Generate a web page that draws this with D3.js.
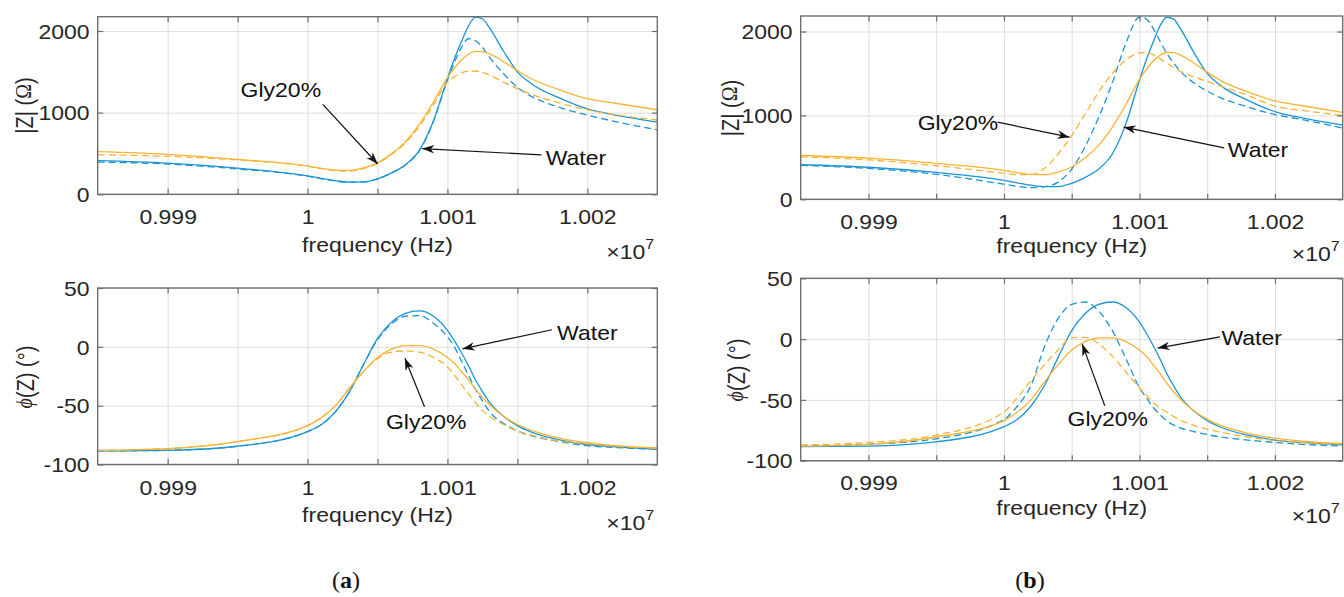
<!DOCTYPE html>
<html><head><meta charset="utf-8">
<script src="https://cdn.jsdelivr.net/npm/d3@7"></script>
<style>body{margin:0;background:#fff;} svg{display:block;}</style>
</head><body>
<svg id="c" width="1344" height="597"></svg>
<script>
// ---------------- DATA (frequency in units of 1e7 Hz) ----------------
const freq = [0.9985, 0.999, 0.9995, 1.0, 1.0001, 1.0002, 1.0003, 1.0004, 1.0005, 1.0006, 1.0007, 1.0008, 1.0009,
  1.001, 1.00105, 1.0011, 1.00115, 1.0012, 1.00125, 1.0013, 1.0014, 1.0015, 1.0016, 1.0018, 1.002, 1.0022, 1.0025];

// |Z| (Ohm)
const waterSolidZ = [412, 382, 320, 225, 195, 168, 150, 152, 190, 262, 362, 540, 900, 1420, 1660, 1870, 2060, 2170, 2150, 2040, 1755, 1500, 1355, 1180, 1045, 970, 885];
const glySolidZ   = [522, 490, 428, 346, 318, 296, 293, 325, 385, 495, 645, 860, 1130, 1430, 1545, 1645, 1715, 1750, 1748, 1722, 1625, 1515, 1415, 1280, 1172, 1115, 1035];
const waterDashZa = [395, 370, 310, 222, 190, 162, 145, 150, 188, 260, 360, 535, 890, 1400, 1615, 1800, 1905, 1880, 1800, 1680, 1480, 1310, 1200, 1065, 970, 890, 790];
const glyDashZa   = [485, 465, 420, 345, 315, 290, 285, 315, 378, 488, 630, 835, 1095, 1370, 1440, 1485, 1508, 1510, 1495, 1460, 1375, 1295, 1225, 1120, 1035, 975, 910];
const waterDashZb = [405, 368, 298, 180, 155, 140, 150, 205, 360, 630, 980, 1390, 1860, 2170, 2150, 2040, 1890, 1745, 1630, 1530, 1390, 1290, 1210, 1100, 1010, 950, 850];
const glyDashZb   = [505, 470, 400, 310, 292, 295, 370, 540, 760, 1020, 1280, 1500, 1660, 1745, 1750, 1725, 1680, 1625, 1575, 1525, 1460, 1405, 1350, 1240, 1110, 1060, 1000];

// phase (deg)
const waterSolidP = [-88.5, -88, -84.5, -72, -66, -55, -38, -15, 7, 21, 28.5, 30.5, 26, 14, 5, -5, -16, -28, -38, -47, -59, -67, -72.5, -79, -83, -85, -87];
const glySolidP   = [-88, -86.5, -80.5, -67, -60, -50, -35, -21, -9, -2, 1, 1, -2, -9, -14, -21, -28, -36, -43, -49, -59, -66, -71, -77.5, -81.5, -84, -86];
const waterDashPa = [-88.5, -88, -84.5, -72, -66, -55, -38, -15, 6, 19.5, 26, 26.5, 20, 8.5, 0, -12, -24, -36, -46, -55, -65, -71.5, -75.5, -80.5, -84, -85.5, -87];
const glyDashPa   = [-88, -86.5, -80.5, -67, -60, -50, -35, -21, -10, -4.5, -3.5, -4.5, -9, -17, -24, -32, -40, -47.5, -54, -59, -66, -71.5, -75, -80, -82.5, -84.5, -86];
const waterDashPb = [-88, -86.5, -82, -66, -55, -38, -6, 17, 28.5, 30.5, 23, 7, -16, -40, -48, -56, -62, -67, -70.5, -73, -76, -78.5, -80.5, -83, -85, -86.5, -88];
const glyDashPb   = [-87, -85, -79, -60, -48, -34, -21, -9, 1, 1.5, -4, -14, -27, -40, -46, -52, -56.5, -60, -63.5, -66.5, -71, -74, -76.5, -80.5, -83.5, -85, -86.5];

const xDomain = [0.9985, 1.0025];
const xTicks = [0.999, 0.9995, 1, 1.0005, 1.001, 1.0015, 1.002];
const xTickLabels = ["0.999", "", "1", "", "1.001", "", "1.002"];
const zTicks = [0, 1000, 2000];
const zTickLabels = ["0", "1000", "2000"];
const pTicks = [-100, -50, 0, 50];
const pTickLabels = ["-100", "-50", "0", "50"];
const seriesNames = ["Water", "Gly20%"];
const xLabel = "frequency (Hz)";
const panelTags = ["a", "b"];

// ---------------- STYLE ----------------
const BLUE = "#1b95d3", ORANGE = "#f8b334";
const TXT = "#262626", AXC = "#6e6e6e", GRID = "#dedede";
const FONT = "'Liberation Sans', Arial, Helvetica, sans-serif";
const SX = 1.15;

const svg = d3.select("#c");
const defs = svg.append("defs");
defs.append("marker").attr("id", "ah").attr("viewBox", "-13 -6 15 12")
  .attr("refX", 0).attr("refY", 0).attr("markerWidth", 15).attr("markerHeight", 12)
  .attr("markerUnits", "userSpaceOnUse").attr("orient", "auto")
  .append("path").attr("d", "M0,0 L-12,-4.2 L-8.5,0 L-12,4.2 Z").attr("fill", "#111");

function stext(g, x, y, anchor, size) {
  return g.append("g").attr("transform", `translate(${x},${y}) scale(${SX},1)`)
    .append("text").attr("text-anchor", anchor).attr("font-family", FONT)
    .attr("font-size", size).attr("fill", TXT);
}

const panels = [
  { x0: 97.7, x1: 657.3, y0: 16.7, y1: 194.3, yDomain: [0, 2175], yTicks: zTicks, yLabels: zTickLabels, kind: "Z",
    ylabX: 24, ylabY: 105.5, tickOff: 30, freqOff: 57.5, expOff: 65,
    series: [[waterSolidZ, BLUE, false], [waterDashZa, BLUE, true], [glySolidZ, ORANGE, false], [glyDashZa, ORANGE, true]],
    ann: [[1, 0.999809, 1196, 1.000109, 1102, 1.0005015, 371], [0, 1.001918, 359, 1.001671, 482, 1.00082, 560]] },
  { x0: 97.7, x1: 657.3, y0: 288, y1: 464.5, yDomain: [-100, 50], yTicks: pTicks, yLabels: pTickLabels, kind: "P",
    ylabX: 25, ylabY: 377, tickOff: 31, freqOff: 57, expOff: 65,
    series: [[waterSolidP, BLUE, false], [waterDashPa, BLUE, true], [glySolidP, ORANGE, false], [glyDashPa, ORANGE, true]],
    ann: [[0, 1.002, 6, 1.001748, 14.5, 1.001108, -1.7], [1, 1.000848, -70.2, 1.000836, -50.9, 1.000696, -9.7]] },
  { x0: 800.7, x1: 1342.7, y0: 16, y1: 199.3, yDomain: [0, 2185], yTicks: zTicks, yLabels: zTickLabels, kind: "Z",
    ylabX: 730, ylabY: 108, tickOff: 29.7, freqOff: 54, expOff: 61.5,
    series: [[waterSolidZ, BLUE, false], [waterDashZb, BLUE, true], [glySolidZ, ORANGE, false], [glyDashZb, ORANGE, true]],
    ann: [[1, 0.99966, 832, 0.999953, 919, 1.000484, 741], [0, 1.001875, 503, 1.001625, 614, 1.000884, 860]] },
  { x0: 800.7, x1: 1342.7, y0: 278.3, y1: 460.7, yDomain: [-100, 50], yTicks: pTicks, yLabels: pTickLabels, kind: "P",
    ylabX: 736, ylabY: 370, tickOff: 29.8, freqOff: 54.3, expOff: 62.3,
    series: [[waterSolidP, BLUE, false], [waterDashPb, BLUE, true], [glySolidP, ORANGE, false], [glyDashPb, ORANGE, true]],
    ann: [[0, 1.001828, -4.9, 1.001594, 1.9, 1.001134, -7.4], [1, 1.000766, -71.3, 1.000744, -54.8, 1.000578, -4.1]] }
];

panels.forEach((p, pi) => {
  const x = d3.scaleLinear().domain(xDomain).range([p.x0, p.x1]);
  const y = d3.scaleLinear().domain(p.yDomain).range([p.y1, p.y0]);
  const W = p.x1 - p.x0, H = p.y1 - p.y0;
  const g = svg.append("g");

  // grid
  g.append("g").attr("transform", `translate(0,${p.y1})`)
    .call(d3.axisBottom(x).tickValues(xTicks).tickSize(-H).tickFormat(""))
    .call(a => { a.select(".domain").remove(); a.selectAll("line").attr("stroke", GRID).attr("stroke-width", 1); });
  g.append("g").attr("transform", `translate(${p.x0},0)`)
    .call(d3.axisLeft(y).tickValues(p.yTicks).tickSize(-W).tickFormat(""))
    .call(a => { a.select(".domain").remove(); a.selectAll("line").attr("stroke", GRID).attr("stroke-width", 1); });

  // clip
  const cid = "clip" + pi;
  defs.append("clipPath").attr("id", cid).append("rect")
    .attr("x", p.x0).attr("y", p.y0).attr("width", W).attr("height", H);

  // lines
  const line = d3.line().x((d, i) => x(freq[i])).y(d => y(d)).curve(d3.curveMonotoneX);
  const lg = g.append("g").attr("clip-path", `url(#${cid})`);
  p.series.forEach(([vals, col, dash]) => {
    lg.append("path").attr("d", line(vals)).attr("fill", "none").attr("stroke", col)
      .attr("stroke-width", 1.3).attr("stroke-dasharray", dash ? "7,4" : null)
      .attr("stroke-linejoin", "round");
  });

  // box
  g.append("rect").attr("x", p.x0).attr("y", p.y0).attr("width", W).attr("height", H)
    .attr("fill", "none").attr("stroke", AXC).attr("stroke-width", 1.4);

  // axes with inward ticks
  const styleAxis = a => {
    a.select(".domain").remove();
    a.selectAll("line").attr("stroke", AXC).attr("stroke-width", 1.2);
    a.selectAll("text").attr("fill", TXT).attr("font-family", FONT).attr("font-size", 20)
      .attr("transform", `scale(${SX},1)`);
  };
  g.append("g").attr("transform", `translate(0,${p.y1})`)
    .call(d3.axisBottom(x).tickValues(xTicks).tickSizeInner(-5.5).tickSizeOuter(0)
      .tickPadding(p.tickOff - 14.2).tickFormat((d, i) => xTickLabels[i]))
    .call(styleAxis);
  g.append("g").attr("transform", `translate(0,${p.y0})`)
    .call(d3.axisTop(x).tickValues(xTicks).tickSizeInner(-5.5).tickSizeOuter(0).tickFormat(""))
    .call(styleAxis);
  g.append("g").attr("transform", `translate(${p.x0},0)`)
    .call(d3.axisLeft(y).tickValues(p.yTicks).tickSizeInner(-5.5).tickSizeOuter(0)
      .tickPadding(7).tickFormat((d, i) => p.yLabels[i]))
    .call(styleAxis)
    .call(a => a.selectAll("text").attr("dy", "0.36em"));
  g.append("g").attr("transform", `translate(${p.x1},0)`)
    .call(d3.axisRight(y).tickValues(p.yTicks).tickSizeInner(-5.5).tickSizeOuter(0).tickFormat(""))
    .call(styleAxis);

  // x label
  stext(g, (p.x0 + p.x1) / 2, p.y1 + p.freqOff, "middle", 20).text(xLabel);
  // exponent
  const ex = stext(g, p.x1 - 3, p.y1 + p.expOff, "end", 20);
  ex.append("tspan").text("×10");
  ex.append("tspan").attr("font-size", 14).attr("dy", -10).text("7");

  // y label
  const yl = g.append("g").attr("transform", `translate(${p.ylabX},${p.ylabY}) scale(${SX},1) rotate(-90)`)
    .append("text").attr("text-anchor", "middle").attr("dominant-baseline", "central")
    .attr("font-family", FONT).attr("font-size", 20).attr("fill", TXT);
  if (p.kind === "Z") {
    yl.append("tspan").text("|Z| (");
    yl.append("tspan").attr("font-family", "'Liberation Serif', 'Times New Roman', serif").text("Ω");
    yl.append("tspan").text(")");
  } else {
    yl.append("tspan").attr("font-family", "'Liberation Serif', 'Times New Roman', serif").attr("font-style", "italic").text("ϕ");
    yl.append("tspan").text("(Z) (°)");
  }

  // annotations
  p.ann.forEach(([si, tf, tv, af, av, hf, hv]) => {
    g.append("line").attr("x1", x(af)).attr("y1", y(av)).attr("x2", x(hf)).attr("y2", y(hv))
      .attr("stroke", "#111").attr("stroke-width", 1.2).attr("marker-end", "url(#ah)");
    stext(g, x(tf), y(tv), "middle", 20).attr("fill", "#111").text(seriesNames[si]);
  });
});

// panel tags
[[346, 0], [1030, 1]].forEach(([cx, i]) => {
  const t = svg.append("text").attr("x", cx).attr("y", 588).attr("text-anchor", "middle")
    .attr("font-family", "'Liberation Serif', 'Times New Roman', serif").attr("font-size", 24).attr("fill", "#111");
  t.append("tspan").text("(");
  t.append("tspan").attr("font-weight", "bold").text(panelTags[i]);
  t.append("tspan").text(")");
});
</script>
</body></html>
